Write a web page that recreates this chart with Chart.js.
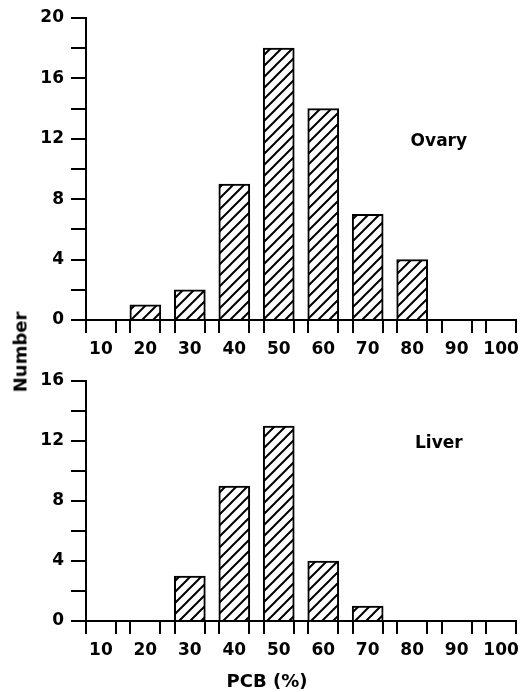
<!DOCTYPE html>
<html>
<head>
<meta charset="utf-8">
<script src="https://cdn.jsdelivr.net/npm/chart.js@4.4.1/dist/chart.umd.min.js"></script>
<style>
  body { margin: 0; background: #fff; }
  #wrap { position: relative; width: 522px; height: 692px; font-family: "DejaVu Sans", sans-serif; }
  canvas { position: absolute; left: 0; }
  #ovary { top: 0; }
  #liver { top: 360px; }
  .lbl { position: absolute; font-size: 18px; font-weight: bold; color: #000; white-space: nowrap; }
  #ytitle { left: 20px; top: 352px; transform: translate(-50%, -50%) rotate(-90deg); }
  #xtitle { left: 267px; top: 680px; transform: translate(-50%, -50%); }
</style>
</head>
<body>
<div id="wrap">
  <canvas id="ovary" width="522" height="360"></canvas>
  <canvas id="liver" width="522" height="332"></canvas>
  <div class="lbl" id="ytitle">Number</div>
  <div class="lbl" id="xtitle">PCB (%)</div>
</div>
<script>
// PCB classes (bar centres) and counts
const bins = [10, 20, 30, 40, 50, 60, 70, 80, 90, 100];
const ovaryCounts = [0, 1, 2, 9, 18, 14, 7, 4, 0, 0];
const liverCounts = [0, 0, 3, 9, 13, 4, 1, 0, 0, 0];
const ovaryMax = 20;
const liverMax = 16;

const HALF = 3.35; // half bar width in x units
const FONT = "DejaVu Sans";

Chart.defaults.color = "#000";
Chart.defaults.font.family = FONT;
Chart.defaults.font.weight = "bold";

// diagonal hatch fill
function hatch() {
  const s = 11;
  const c = document.createElement("canvas");
  c.width = s;
  c.height = s;
  const g = c.getContext("2d");
  g.fillStyle = "#fff";
  g.fillRect(0, 0, s, s);
  g.strokeStyle = "#000";
  g.lineWidth = 2;
  g.beginPath();
  g.moveTo(-2, s + 2); g.lineTo(s + 2, -2);
  g.moveTo(-2, 2); g.lineTo(2, -2);
  g.moveTo(s - 2, s + 2); g.lineTo(s + 2, s - 2);
  g.stroke();
  return g.createPattern(c, "repeat");
}

const panelLabel = {
  id: "panelLabel",
  afterDatasetsDraw(chart, args, opts) {
    const ctx = chart.ctx;
    const x = chart.scales.x.getPixelForValue(opts.x);
    const y = chart.scales.y.getPixelForValue(opts.y);
    ctx.save();
    ctx.font = "bold 17px " + FONT;
    ctx.fillStyle = "#000";
    ctx.textAlign = "center";
    ctx.textBaseline = "middle";
    ctx.fillText(opts.text, x, y);
    ctx.restore();
  },
};

function makeChart(id, counts, yMax, name, topPad, xHeight) {
  const ctx = document.getElementById(id).getContext("2d");
  const xMin = bins[0] - HALF;
  const xMax = bins[bins.length - 1] + HALF;
  return new Chart(ctx, {
    type: "bar",
    data: {
      datasets: [
        {
          data: bins.map((b, i) => ({ x: b, y: counts[i] })),
          backgroundColor: hatch(),
          borderColor: "#000",
          borderWidth: 2,
          barThickness: 31,
        },
      ],
    },
    options: {
      responsive: false,
      animation: false,
      layout: { padding: { top: topPad, right: 3, left: 0, bottom: 0 } },
      plugins: {
        legend: { display: false },
        tooltip: { enabled: false },
        panelLabel: { text: name, x: 86, y: 11.8 },
      },
      scales: {
        x: {
          type: "linear",
          min: xMin,
          max: xMax,
          offset: false,
          afterBuildTicks: (scale) => {
            const t = [];
            bins.forEach((b) => {
              t.push({ value: b - HALF });
              t.push({ value: b });
              t.push({ value: b + HALF });
            });
            scale.ticks = t;
          },
          afterFit: (scale) => {
            scale.height = xHeight;
          },
          grid: {
            offset: false,
            drawOnChartArea: false,
            tickLength: 13,
            lineWidth: 2,
            color: (c) => (c.tick && bins.includes(c.tick.value) ? "rgba(0,0,0,0)" : "#000"),
          },
          border: { color: "#000", width: 2 },
          ticks: {
            autoSkip: false,
            maxRotation: 0,
            minRotation: 0,
            padding: 6,
            font: { size: 17 },
            callback: (v) => (bins.includes(v) ? String(v) : ""),
          },
        },
        y: {
          min: 0,
          max: yMax,
          afterFit: (scale) => {
            scale.width = 86;
          },
          grid: {
            drawOnChartArea: false,
            tickLength: 15,
            lineWidth: 2,
            color: "#000",
          },
          border: { color: "#000", width: 2 },
          ticks: {
            stepSize: 2,
            autoSkip: false,
            padding: 7,
            font: { size: 17 },
            callback: (v) => (v % 4 === 0 ? String(v) : ""),
          },
        },
      },
    },
    plugins: [panelLabel],
  });
}

makeChart("ovary", ovaryCounts, ovaryMax, "Ovary", 18, 40);
makeChart("liver", liverCounts, liverMax, "Liver", 21, 71);
</script>
</body>
</html>
